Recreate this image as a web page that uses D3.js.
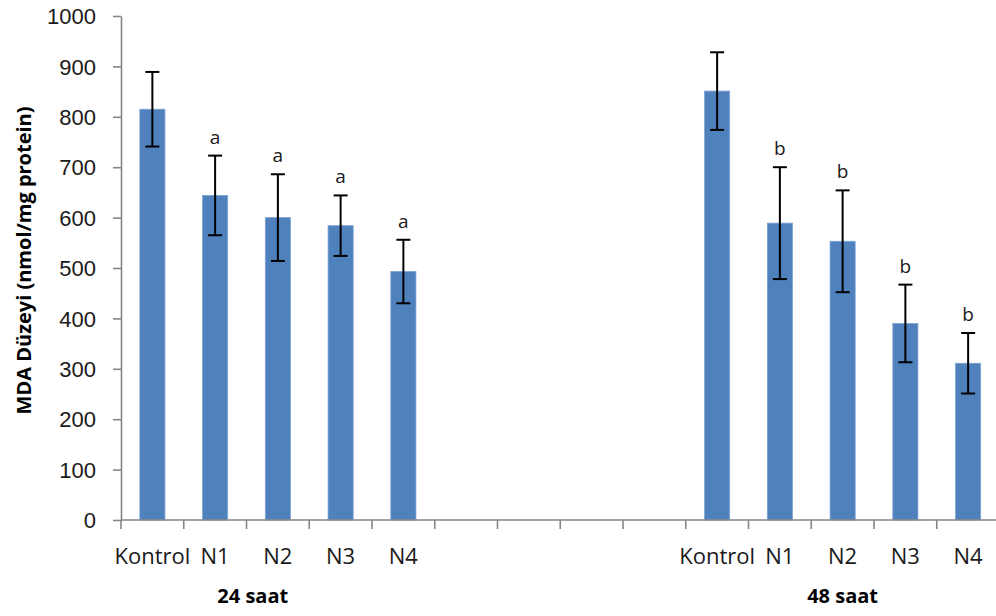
<!DOCTYPE html>
<html>
<head>
<meta charset="utf-8">
<script src="https://cdn.jsdelivr.net/npm/d3@7"></script>
<style>
  body { margin: 0; background: #fff; }
  svg { display: block; font-family: "Open Sans", sans-serif; }
  .axis path, .axis line { stroke: #868686; stroke-width: 1.6; }
  .axis text { fill: #1a1a1a; font-size: 22px; }
</style>
</head>
<body>
<div class="chart"></div>
<script>
const treatments = ["Kontrol", "N1", "N2", "N3", "N4"]
const groups = ["24 saat", "48 saat"]
const means24 = [815, 644, 600, 584, 493]
const errors24 = [74, 79, 86, 60, 63]
const letters24 = ["", "a", "a", "a", "a"]
const means48 = [851, 589, 553, 390, 311]
const errors48 = [77, 111, 101, 77, 60]
const letters48 = ["", "b", "b", "b", "b"]
const emptySlots = ["e1", "e2", "e3", "e4"]
const yTicks = [0, 100, 200, 300, 400, 500, 600, 700, 800, 900, 1000]

const width = 996
const height = 616
const margin = {top: 16, left: 121, bottom: 96}

// one band per slot, empty ones between the two groups
const slots = [
  ...treatments.map(t => "24|" + t),
  ...emptySlots,
  ...treatments.map(t => "48|" + t)
]

const data = [
  ...treatments.map((t, i) => ({key: "24|" + t, name: t, mean: means24[i], err: errors24[i], letter: letters24[i]})),
  ...treatments.map((t, i) => ({key: "48|" + t, name: t, mean: means48[i], err: errors48[i], letter: letters48[i]}))
]

const x = d3.scaleBand()
  .domain(slots)
  .range([margin.left, 999.5])
  .paddingInner(0.6)
  .paddingOuter(0.3)

const y = d3.scaleLinear()
  .domain([0, 1000])
  .range([height - margin.bottom, margin.top])

const svg = d3.select(".chart")
  .append("svg")
  .attr("width", width)
  .attr("height", height)

// bars
svg.append("g").selectAll("rect")
  .data(data)
  .enter()
  .append("rect")
  .attr("x", d => x(d.key))
  .attr("y", d => y(d.mean))
  .attr("width", x.bandwidth())
  .attr("height", d => y(0) - y(d.mean))
  .style("fill", "#4f81bd")
  .style("stroke", "#7ea3d3")
  .style("stroke-width", 0.8)

// y axis
const yaxis = svg.append("g")
  .attr("class", "axis")
  .attr("transform", "translate(" + margin.left + ",0)")
  .call(d3.axisLeft(y).tickValues(yTicks).tickFormat(d3.format("d"))
    .tickSizeInner(8).tickSizeOuter(0).tickPadding(17))
yaxis.selectAll("text").attr("dy", "0.35em")

// x axis: line + ticks on slot boundaries
const step = x.step()
const x0 = x(slots[0]) - step * 0.3
const xaxis = svg.append("g").attr("class", "axis")
xaxis.append("line")
  .attr("x1", margin.left).attr("x2", width)
  .attr("y1", y(0)).attr("y2", y(0))
xaxis.selectAll(".tk")
  .data(d3.range(slots.length + 1))
  .enter()
  .append("line")
  .attr("x1", i => x0 + i * step).attr("x2", i => x0 + i * step)
  .attr("y1", y(0)).attr("y2", y(0) + 9)

xaxis.selectAll(".cat")
  .data(data)
  .enter()
  .append("text")
  .attr("x", d => x(d.key) + x.bandwidth() / 2)
  .attr("y", y(0) + 44)
  .attr("text-anchor", "middle")
  .text(d => d.name)

// group labels
svg.append("text")
  .attr("x", x0 + step * 2.1)
  .attr("y", height - 13)
  .attr("text-anchor", "middle")
  .style("font-weight", "bold")
  .style("font-size", "20px")
  .text(groups[0])
svg.append("text")
  .attr("x", x("48|N2") + x.bandwidth() / 2)
  .attr("y", height - 13)
  .attr("text-anchor", "middle")
  .style("font-weight", "bold")
  .style("font-size", "20px")
  .text(groups[1])

// error bars
const eb = svg.append("g").selectAll("g")
  .data(data)
  .enter()
  .append("g")
  .attr("transform", d => "translate(" + (x(d.key) + x.bandwidth() / 2) + ",0)")
  .style("stroke", "#000")
  .style("stroke-width", 2)

eb.append("line")
  .attr("y1", d => y(d.mean + d.err))
  .attr("y2", d => y(d.mean - d.err))
eb.append("line")
  .attr("x1", -7).attr("x2", 7)
  .attr("y1", d => y(d.mean + d.err)).attr("y2", d => y(d.mean + d.err))
eb.append("line")
  .attr("x1", -7).attr("x2", 7)
  .attr("y1", d => y(d.mean - d.err)).attr("y2", d => y(d.mean - d.err))

// significance letters
svg.append("g").selectAll("text")
  .data(data.filter(d => d.letter))
  .enter()
  .append("text")
  .attr("x", d => x(d.key) + x.bandwidth() / 2)
  .attr("y", d => y(d.mean + d.err) - 12)
  .attr("text-anchor", "middle")
  .style("font-size", "19px")
  .style("fill", "#1a1a1a")
  .text(d => d.letter)

// y title
svg.append("text")
  .attr("transform", "translate(31," + y(515) + ") rotate(-90)")
  .attr("text-anchor", "middle")
  .style("font-weight", "bold")
  .style("font-size", "20px")
  .text("MDA Düzeyi (nmol/mg protein)")
</script>
</body>
</html>
